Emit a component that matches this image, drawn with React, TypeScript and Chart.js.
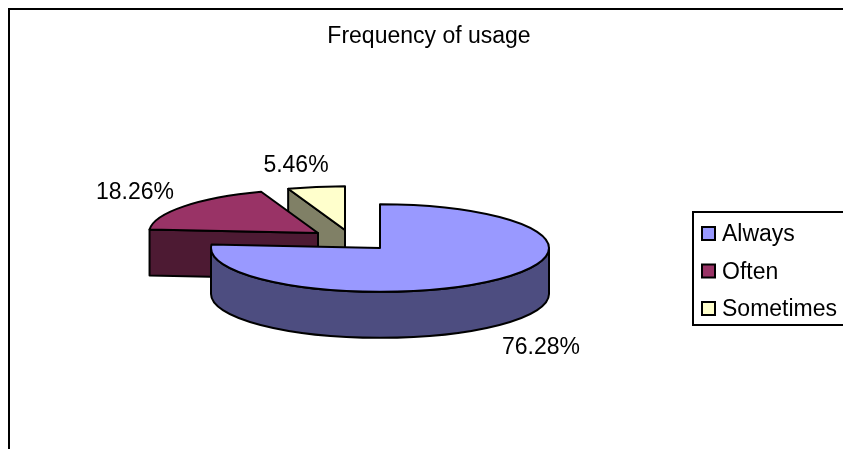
import React, { useEffect, useRef } from "react";
import { Chart, registerables } from "chart.js";

Chart.register(...registerables);

const title = "Frequency of usage";
const categories = ["Always", "Often", "Sometimes"];
const shares = [76.28, 18.26, 5.46];
const topColors = ["#9999ff", "#993366", "#ffffcc"];
const sideColors = ["#4d4d80", "#4d1a33", "#808066"];

// Perspective and explosion of the drawn pie
const squash = 44 / 170;
const depth = 46;
const explode = [
  { x: 0, y: 0 },
  { x: -62, y: -15 },
  { x: -35, y: -18 },
];
const labelAnchors = [
  { x: 541, y: 346 },
  { x: 135, y: 191 },
  { x: 296, y: 164 },
];
const FONT = '23px "Liberation Sans", Arial, sans-serif';
const INK = "#000000";

const norm = (a: number) => {
  const t = Math.PI * 2;
  return ((a % t) + t) % t;
};

const pie3d = {
  id: "pie3d",
  beforeDatasetDraw(chart: any) {
    const { ctx } = chart;
    const arcs = chart.getDatasetMeta(0).data;
    ctx.save();
    ctx.lineWidth = 2;
    ctx.lineJoin = "round";
    ctx.strokeStyle = INK;
    // Far slices first so the large front slice overlaps them
    for (let i = arcs.length - 1; i >= 0; i--) {
      const p = arcs[i].getProps(["x", "y", "startAngle", "endAngle", "outerRadius"], true);
      const cx = p.x + explode[i].x;
      const cy = p.y + explode[i].y;
      const rx = p.outerRadius;
      const ry = rx * squash;
      const px = (a: number) => cx + rx * Math.cos(a);
      const py = (a: number) => cy + ry * Math.sin(a);

      const wall = (a: number) => {
        ctx.beginPath();
        ctx.moveTo(cx, cy);
        ctx.lineTo(px(a), py(a));
        ctx.lineTo(px(a), py(a) + depth);
        ctx.lineTo(cx, cy + depth);
        ctx.closePath();
        ctx.fillStyle = sideColors[i];
        ctx.fill();
        ctx.stroke();
      };
      // Cut faces that turn towards the viewer
      if (-Math.cos(p.startAngle) > 1e-6) wall(p.startAngle);
      if (Math.cos(p.endAngle) > 1e-6) wall(p.endAngle);

      // Outer rim on the near half of the ellipse
      const s = norm(p.startAngle);
      const sweep = p.endAngle - p.startAngle;
      const from = s <= Math.PI ? s : s + sweep >= Math.PI * 2 ? 0 : null;
      if (from !== null) {
        const to = Math.min(Math.PI, s <= Math.PI ? s + sweep : s + sweep - Math.PI * 2);
        ctx.beginPath();
        ctx.ellipse(cx, cy, rx, ry, 0, from, to);
        ctx.lineTo(px(to), py(to) + depth);
        ctx.ellipse(cx, cy + depth, rx, ry, 0, to, from, true);
        ctx.closePath();
        ctx.fillStyle = sideColors[i];
        ctx.fill();
        ctx.stroke();
      }

      // Top surface
      ctx.beginPath();
      ctx.moveTo(cx, cy);
      ctx.ellipse(cx, cy, rx, ry, 0, p.startAngle, p.endAngle);
      ctx.closePath();
      ctx.fillStyle = topColors[i];
      ctx.fill();
      ctx.stroke();
    }
    ctx.restore();
    return false;
  },
};

const furniture = {
  id: "furniture",
  afterDraw(chart: any) {
    const { ctx } = chart;
    ctx.save();
    ctx.strokeStyle = INK;
    ctx.fillStyle = INK;

    // Outer frame: only the top and left edges fall inside the view
    ctx.lineWidth = 2;
    ctx.beginPath();
    ctx.moveTo(9, 449);
    ctx.lineTo(9, 9);
    ctx.lineTo(843, 9);
    ctx.stroke();

    ctx.font = FONT;
    ctx.textBaseline = "alphabetic";
    ctx.textAlign = "center";
    ctx.fillText(title, 429, 43);
    shares.forEach((v, i) => {
      ctx.fillText(`${v.toFixed(2)}%`, labelAnchors[i].x, labelAnchors[i].y + 8);
    });

    // Legend box
    ctx.fillStyle = "#ffffff";
    ctx.fillRect(693, 212, 160, 113);
    ctx.strokeRect(693, 212, 160, 113);
    ctx.textAlign = "left";
    categories.forEach((name, i) => {
      const y = 227 + i * 37.5;
      ctx.fillStyle = topColors[i];
      ctx.fillRect(702, y, 13, 13);
      ctx.strokeRect(702, y, 13, 13);
      ctx.fillStyle = INK;
      ctx.fillText(name, 722, y + 14);
    });
    ctx.restore();
  },
};

export default function App() {
  const ref = useRef<HTMLCanvasElement>(null);
  useEffect(() => {
    const chart = new Chart(ref.current!, {
      type: "pie",
      data: {
        labels: categories,
        datasets: [{ data: shares, backgroundColor: topColors }],
      },
      options: {
        animation: false,
        responsive: false,
        layout: { padding: { left: 210, right: 293, top: 78, bottom: 31 } },
        plugins: { legend: { display: false }, title: { display: false }, tooltip: { enabled: false } },
      },
      plugins: [pie3d, furniture],
    } as any);
    return () => chart.destroy();
  }, []);
  return (
    <canvas
      ref={ref}
      width={843}
      height={449}
      style={{ position: "absolute", left: 0, top: 0, display: "block" }}
    />
  );
}
